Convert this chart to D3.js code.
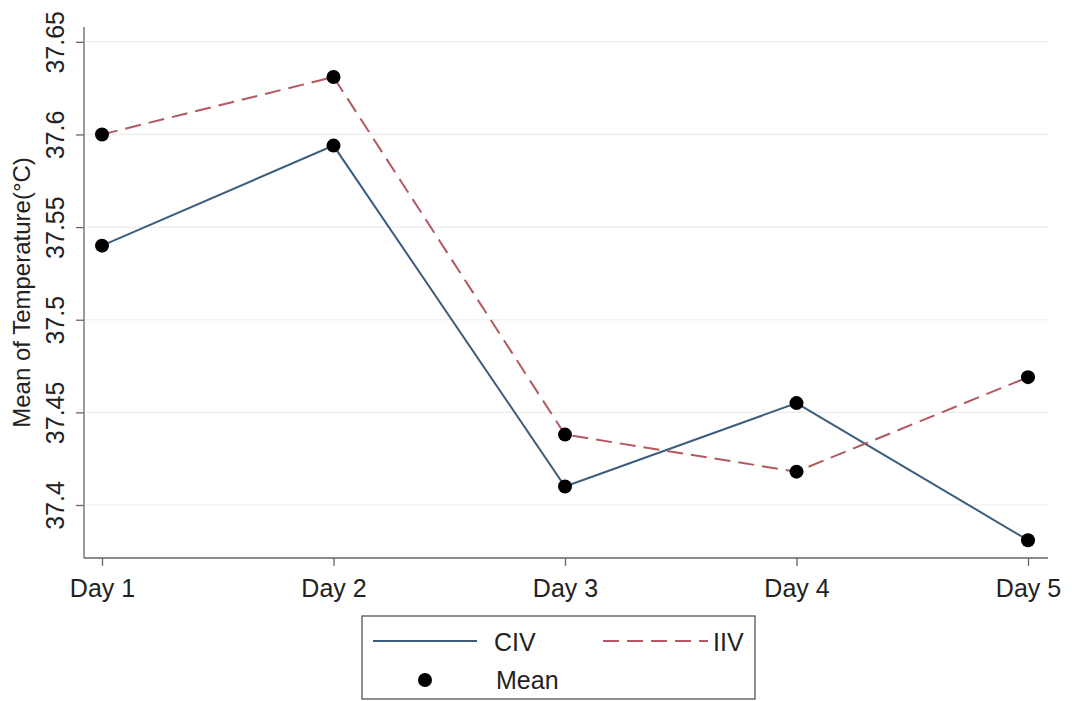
<!DOCTYPE html>
<html>
<head>
<meta charset="utf-8">
<script src="https://cdn.jsdelivr.net/npm/d3@7"></script>
<style>
  body { margin: 0; background: #fff; }
  text { font-family: "Liberation Sans", Arial, sans-serif; }
</style>
</head>
<body>
<svg id="chart" width="1072" height="701"></svg>
<script>
// data
var days = ['Day 1', 'Day 2', 'Day 3', 'Day 4', 'Day 5'];
var civ = [37.540, 37.594, 37.410, 37.455, 37.381];
var iiv = [37.600, 37.631, 37.438, 37.418, 37.469];
var yTicks = [37.4, 37.45, 37.5, 37.55, 37.6, 37.65];

var svg = d3.select('#chart');

// plot area (not "top": window.top is read only)
var pl = 84, pr = 1048, pt = 27, pb = 558;

var x = d3.scalePoint()
	.domain(days)
	.range([102, 1028]);

var y = d3.scaleLinear()
	.domain([37.3714, 37.658])
	.range([pb, pt]);

// gridlines
svg.append('g')
	.selectAll('line')
	.data(yTicks)
	.enter()
	.append('line')
	.attr('x1', pl + 2)
	.attr('x2', pr)
	.attr('y1', function (d) { return y(d); })
	.attr('y2', function (d) { return y(d); })
	.attr('stroke', '#ececec')
	.attr('stroke-width', 1.2);

// y axis
var yAxis = svg.append('g')
	.attr('transform', 'translate(' + pl + ',0)')
	.call(d3.axisLeft(y).tickValues(yTicks).tickSize(8).tickFormat(d3.format('')));
yAxis.select('.domain').attr('d', 'M0,' + pt + 'V' + pb).attr('stroke', '#666').attr('stroke-width', 1.3);
yAxis.selectAll('.tick line').attr('stroke', '#666').attr('stroke-width', 1.3);
yAxis.selectAll('.tick text')
	.attr('font-size', 25)
	.attr('fill', '#222')
	.attr('text-anchor', 'middle')
	.attr('transform', 'rotate(-90)')
	.attr('x', 0)
	.attr('dy', 0)
	.attr('y', -20);

// x axis
var xAxis = svg.append('g')
	.attr('transform', 'translate(0,' + pb + ')')
	.call(d3.axisBottom(x).tickSize(8).tickPadding(0));
xAxis.select('.domain').attr('d', 'M' + pl + ',0H' + pr).attr('stroke', '#666').attr('stroke-width', 1.3);
xAxis.selectAll('.tick line').attr('stroke', '#666').attr('stroke-width', 1.3);
xAxis.selectAll('.tick text')
	.attr('font-size', 25)
	.attr('fill', '#222')
	.attr('dy', 0)
	.attr('y', 39);

// y axis title
svg.append('text')
	.attr('transform', 'translate(30,' + (pt + pb) / 2 + ') rotate(-90)')
	.attr('text-anchor', 'middle')
	.attr('font-size', 24)
	.attr('fill', '#222')
	.text('Mean of Temperature(°C)');

var line = d3.line()
	.x(function (d, i) { return x(days[i]); })
	.y(function (d) { return y(d); });

svg.append('path')
	.datum(civ)
	.attr('d', line)
	.attr('fill', 'none')
	.attr('stroke', '#3b5d7e')
	.attr('stroke-width', 2);

svg.append('path')
	.datum(iiv)
	.attr('d', line)
	.attr('fill', 'none')
	.attr('stroke', '#b3585f')
	.attr('stroke-width', 2)
	.attr('stroke-dasharray', '16,8');

[civ, iiv].forEach(function (s) {
	svg.append('g')
		.selectAll('circle')
		.data(s)
		.enter()
		.append('circle')
		.attr('cx', function (d, i) { return x(days[i]); })
		.attr('cy', function (d) { return y(d); })
		.attr('r', 7)
		.attr('fill', '#000');
});

// legend
var lg = svg.append('g');
lg.append('rect')
	.attr('x', 362).attr('y', 616)
	.attr('width', 393).attr('height', 83)
	.attr('fill', '#fff')
	.attr('stroke', '#555')
	.attr('stroke-width', 1.3);
lg.append('line')
	.attr('x1', 373).attr('x2', 477).attr('y1', 641).attr('y2', 641)
	.attr('stroke', '#3b5d7e').attr('stroke-width', 2);
lg.append('text').attr('x', 494).attr('y', 651).attr('font-size', 25).attr('fill', '#222').text('CIV');
lg.append('line')
	.attr('x1', 603).attr('x2', 708).attr('y1', 641).attr('y2', 641)
	.attr('stroke', '#b3585f').attr('stroke-width', 2).attr('stroke-dasharray', '16,8');
lg.append('text').attr('x', 713).attr('y', 651).attr('font-size', 25).attr('fill', '#222').text('IIV');
lg.append('circle').attr('cx', 425).attr('cy', 680).attr('r', 7).attr('fill', '#000');
lg.append('text').attr('x', 496).attr('y', 689).attr('font-size', 25).attr('fill', '#222').text('Mean');
</script>
</body>
</html>
